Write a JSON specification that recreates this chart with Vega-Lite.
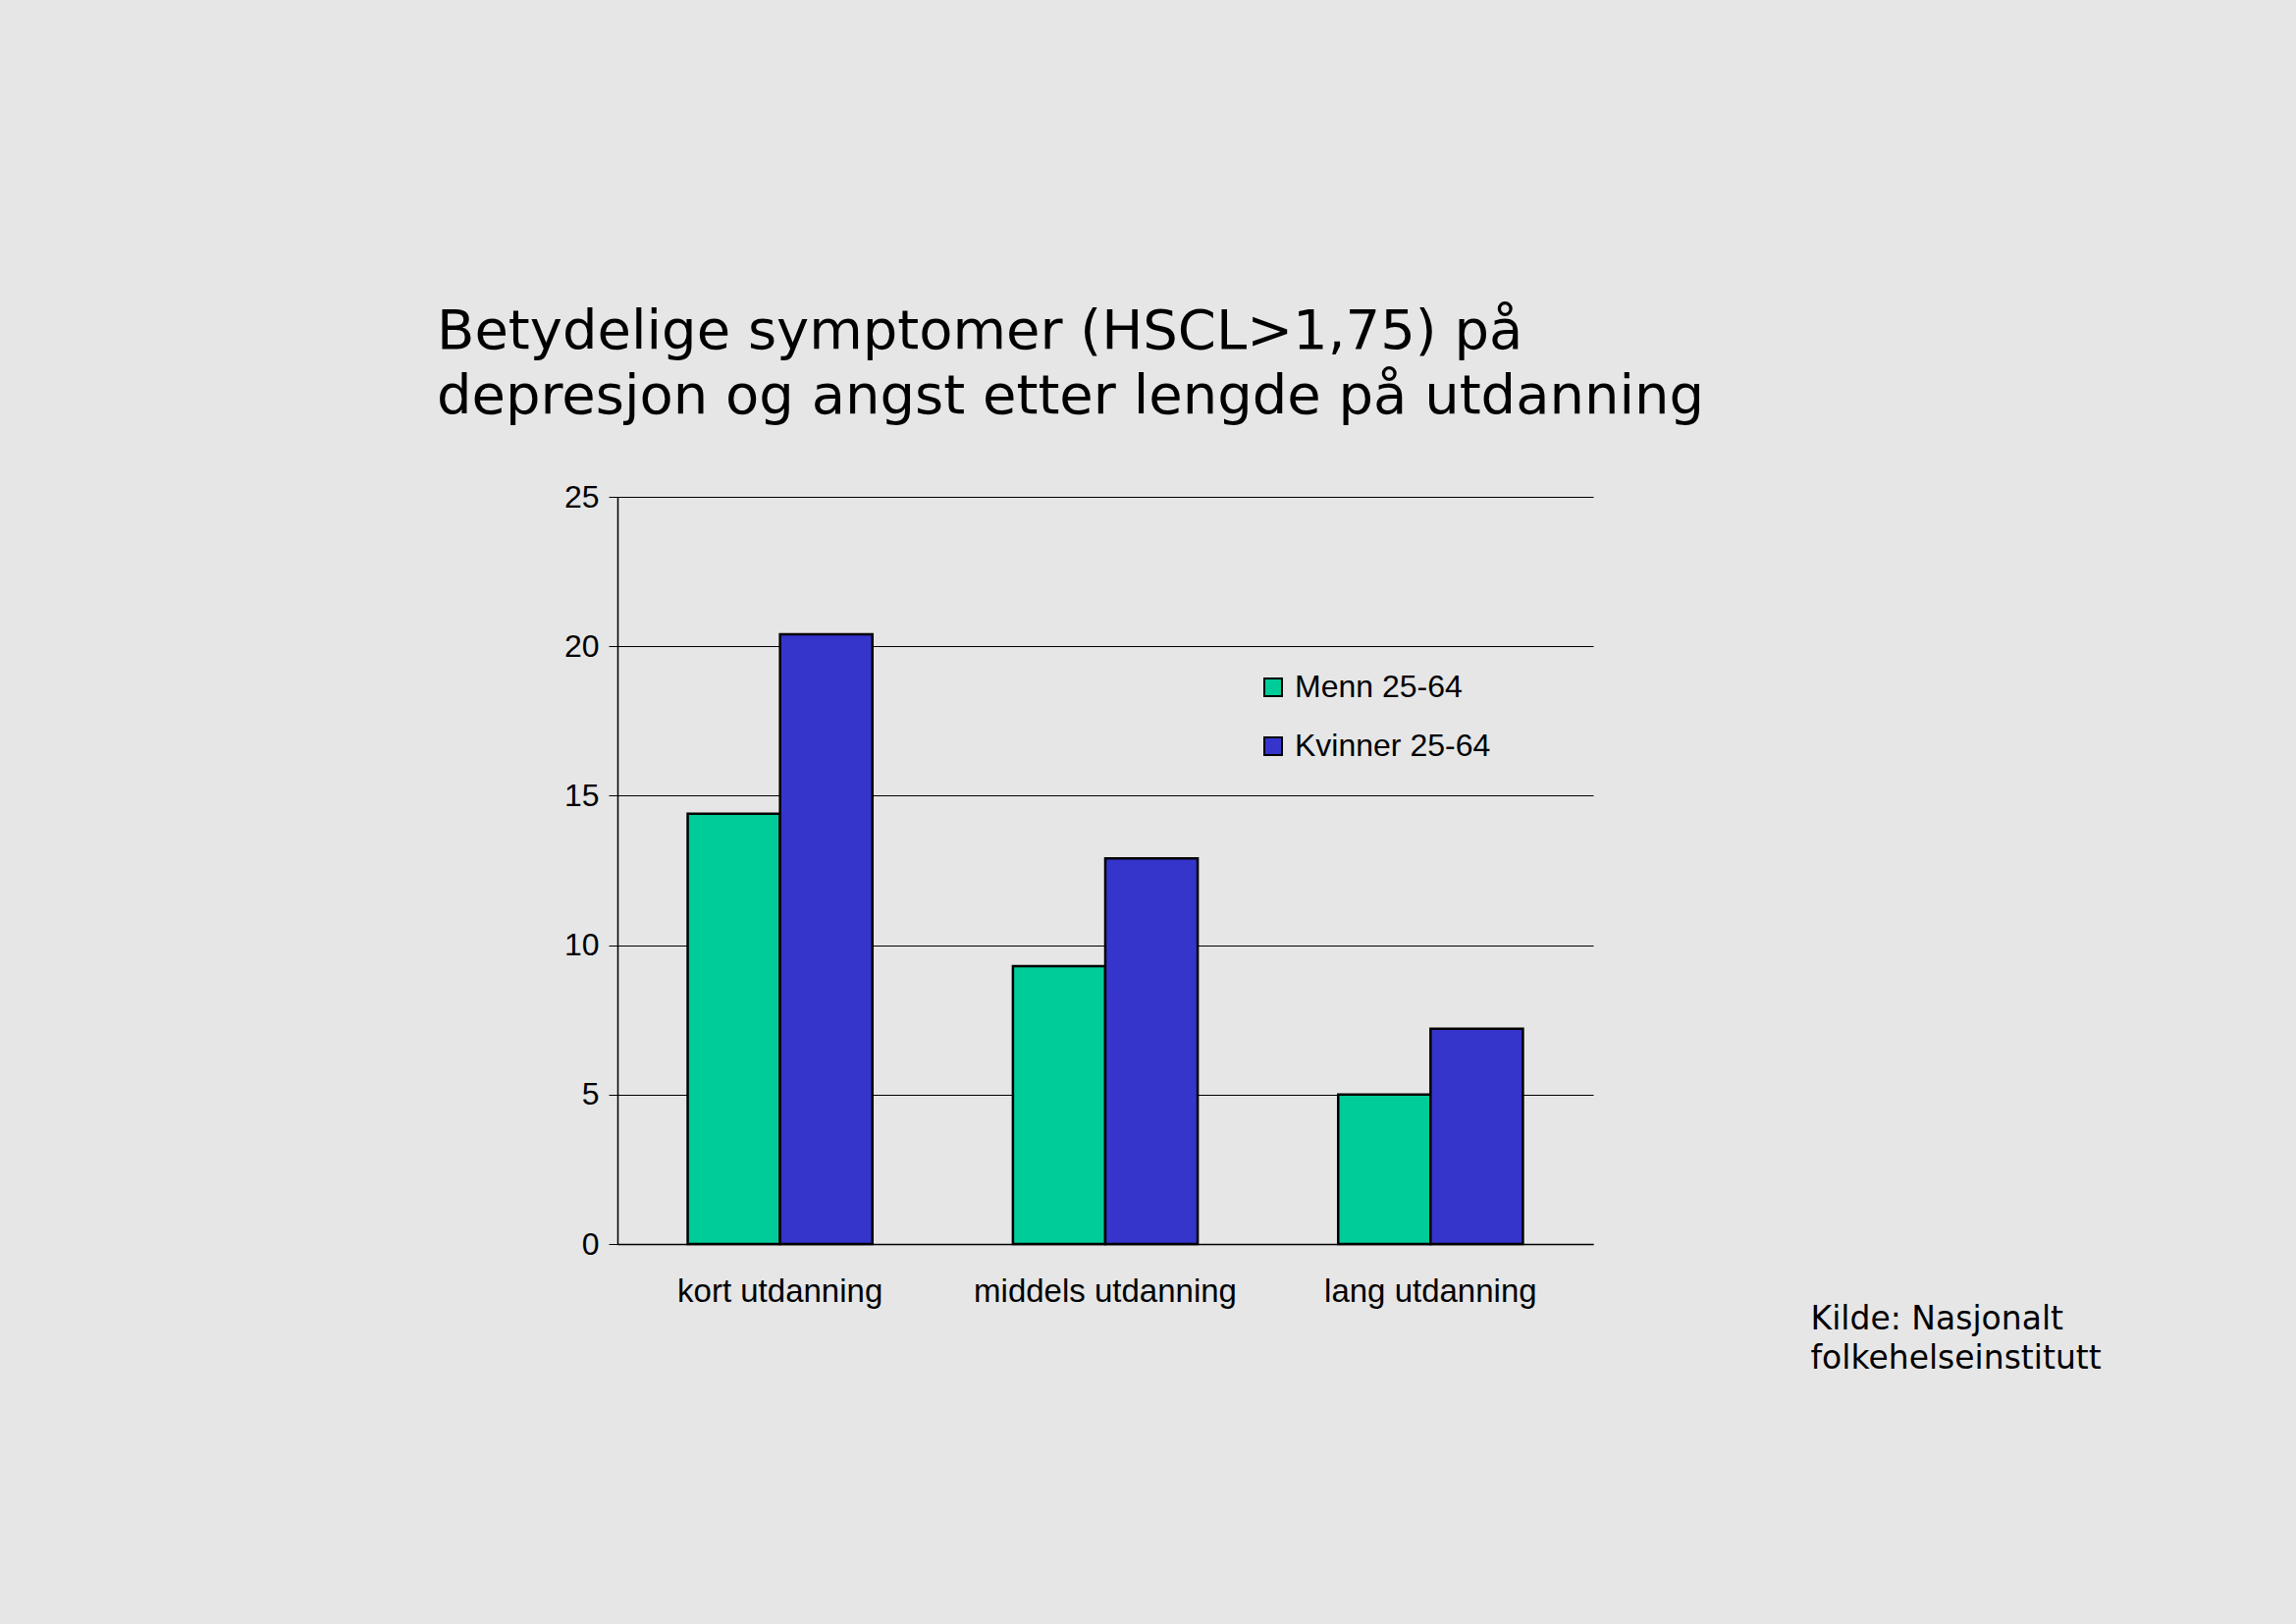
{
  "$schema": "https://vega.github.io/schema/vega-lite/v6.json",
  "width": 994,
  "height": 761,
  "autosize": {"type": "none"},
  "padding": {"left": 629, "top": 506, "right": 716, "bottom": 387},
  "background": "#E6E6E6",
  "title": {
    "text": ["Betydelige symptomer (HSCL>1,75) på", "depresjon og angst etter lengde på utdanning"],
    "anchor": "start",
    "frame": "group",
    "dx": -184,
    "offset": 57,
    "font": "DejaVu Sans",
    "fontSize": 56,
    "fontWeight": "normal",
    "lineHeight": 66,
    "color": "#000000"
  },
  "data": {
    "values": [
      {"utdanning": "kort utdanning", "gruppe": "Menn 25-64", "prosent": 14.4},
      {"utdanning": "kort utdanning", "gruppe": "Kvinner 25-64", "prosent": 20.4},
      {"utdanning": "middels utdanning", "gruppe": "Menn 25-64", "prosent": 9.3},
      {"utdanning": "middels utdanning", "gruppe": "Kvinner 25-64", "prosent": 12.9},
      {"utdanning": "lang utdanning", "gruppe": "Menn 25-64", "prosent": 5.0},
      {"utdanning": "lang utdanning", "gruppe": "Kvinner 25-64", "prosent": 7.2}
    ]
  },
  "mark": {"type": "bar", "stroke": "#000000", "strokeWidth": 2.5},
  "encoding": {
    "x": {
      "field": "utdanning",
      "type": "nominal",
      "sort": ["kort utdanning", "middels utdanning", "lang utdanning"],
      "scale": {"paddingInner": 0.432, "paddingOuter": 0.216},
      "axis": {
        "title": ["Kilde: Nasjonalt", "folkehelseinstitutt"],
        "titleFont": "DejaVu Sans",
        "titleFontSize": 33,
        "titleFontWeight": "normal",
        "titleColor": "#000000",
        "titleAlign": "left",
        "titleAnchor": "start",
        "titleBaseline": "top",
        "titleLineHeight": 40,
        "titleX": 1215,
        "titleY": 60,
        "labelAngle": 0,
        "labelFont": "Liberation Sans",
        "labelFontSize": 33,
        "labelColor": "#000000",
        "labelPadding": 32,
        "labelLimit": 0,
        "ticks": false,
        "domainColor": "#000000",
        "domainWidth": 1.5
      }
    },
    "xOffset": {
      "field": "gruppe",
      "type": "nominal",
      "sort": ["Menn 25-64", "Kvinner 25-64"]
    },
    "y": {
      "field": "prosent",
      "type": "quantitative",
      "scale": {"domain": [0, 25], "nice": false},
      "axis": {
        "title": null,
        "values": [0, 5, 10, 15, 20, 25],
        "labelFont": "Liberation Sans",
        "labelFontSize": 32,
        "labelColor": "#000000",
        "labelPadding": 10,
        "tickSize": 9,
        "tickColor": "#000000",
        "domainColor": "#000000",
        "domainWidth": 1.5,
        "grid": true,
        "gridColor": "#000000",
        "gridWidth": 1.2
      }
    },
    "fill": {
      "field": "gruppe",
      "type": "nominal",
      "sort": ["Menn 25-64", "Kvinner 25-64"],
      "scale": {"domain": ["Menn 25-64", "Kvinner 25-64"], "range": ["#00CC99", "#3535CC"]},
      "legend": {
        "title": null,
        "orient": "none",
        "legendX": 652,
        "legendY": 178,
        "symbolType": "square",
        "symbolSize": 324,
        "symbolStrokeColor": "#000000",
        "symbolStrokeWidth": 2,
        "labelFont": "Liberation Sans",
        "labelFontSize": 32,
        "labelColor": "#000000",
        "labelOffset": 6,
        "labelLimit": 0,
        "rowPadding": 28
      }
    }
  },
  "config": {
    "view": {"stroke": null}
  }
}
